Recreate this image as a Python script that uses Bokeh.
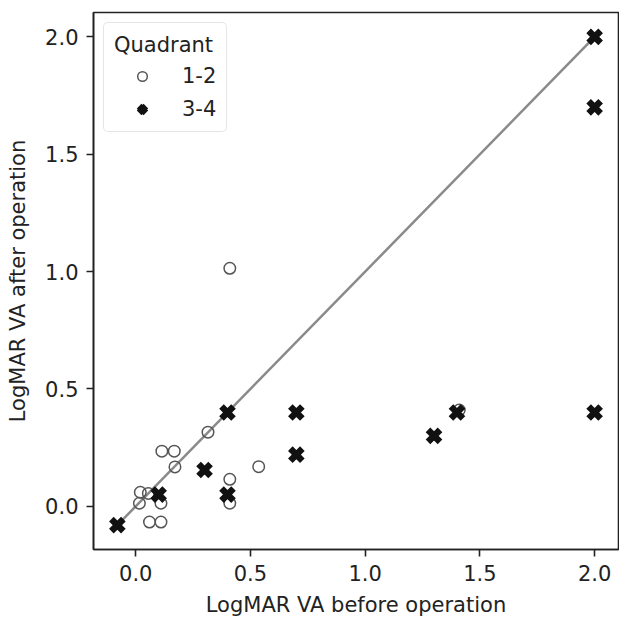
from bokeh.plotting import figure
from bokeh.models import FixedTicker, Range1d, Legend, LegendItem, PrintfTickFormatter
from bokeh.embed import file_html
from bokeh.resources import INLINE

# Quadrant 1-2 (open circles)
before_12 = [0.02, 0.055, 0.016, 0.06, 0.11, 0.11, 0.114, 0.168, 0.171, 0.315, 0.41, 0.41, 0.536, 0.41, 1.41]
after_12 = [0.06, 0.055, 0.013, -0.067, -0.067, 0.013, 0.235, 0.235, 0.168, 0.316, 0.115, 0.013, 0.169, 1.014, 0.41]

# Quadrant 3-4 (crosses)
before_34 = [-0.08, 0.1, 0.4, 0.3, 0.4, 0.7, 0.7, 1.3, 1.4, 2.0, 2.0, 2.0]
after_34 = [-0.08, 0.05, 0.4, 0.155, 0.05, 0.4, 0.22, 0.3, 0.4, 2.0, 1.7, 0.4]

# identity reference line
ref_line = [-0.08, 2.0]

ticks = [0.0, 0.5, 1.0, 1.5, 2.0]

FONT = "DejaVu Sans"

p = figure(width=619, height=619, output_backend="svg", toolbar_location=None,
           x_range=Range1d(-0.184, 2.104), y_range=Range1d(-0.184, 2.104),
           min_border_left=93, min_border_right=1, min_border_top=12, min_border_bottom=69)

p.xgrid.visible = False
p.ygrid.visible = False
p.outline_line_color = "#222222"
p.outline_line_width = 1.6
p.background_fill_color = "white"
p.border_fill_color = "white"

for ax in (p.xaxis[0], p.yaxis[0]):
    ax.ticker = FixedTicker(ticks=ticks)
    ax.formatter = PrintfTickFormatter(format="%.1f")
    ax.axis_line_color = "#222222"
    ax.axis_line_width = 1.6
    ax.major_tick_line_color = "#222222"
    ax.major_tick_line_width = 1.6
    ax.major_tick_out = 7
    ax.major_tick_in = 0
    ax.minor_tick_line_color = None
    ax.major_label_text_font = FONT
    ax.major_label_text_font_size = "21px"
    ax.major_label_text_color = "#222222"
    ax.axis_label_text_font = FONT
    ax.axis_label_text_font_size = "21px"
    ax.axis_label_text_font_style = "normal"
    ax.axis_label_text_color = "#222222"

p.xaxis.axis_label = "LogMAR VA before operation"
p.yaxis.axis_label = "LogMAR VA after operation"
p.xaxis.major_label_standoff = 8
p.xaxis.axis_label_standoff = 9
p.yaxis.major_label_standoff = 8
p.yaxis.axis_label_standoff = 12

p.line(ref_line, ref_line, line_color="#8a8a8a", line_width=2.5)

r1 = p.scatter(before_12, after_12, marker="circle", size=11.5, fill_color=None,
               line_color="#555555", line_width=1.5)
r2 = p.scatter(before_34, after_34, marker="x", size=17, line_color="#111111",
               line_width=6.5)

legend = Legend(items=[LegendItem(label="1-2", renderers=[r1]),
                       LegendItem(label="3-4", renderers=[r2])],
                location="top_left", title="Quadrant")
legend.title_text_font = FONT
legend.title_text_font_size = "21px"
legend.title_text_font_style = "normal"
legend.title_text_color = "#222222"
legend.title_standoff = 7
legend.label_text_font = FONT
legend.label_text_font_size = "21px"
legend.label_text_color = "#222222"
legend.glyph_width = 56
legend.glyph_height = 24
legend.label_height = 24
legend.label_standoff = 12
legend.spacing = 9
legend.padding = 10
legend.margin = 10
legend.border_line_color = "#cccccc"
legend.border_line_width = 1.5
legend.background_fill_color = "white"
legend.background_fill_alpha = 0.85
try:
    legend.border_radius = 5
except Exception:
    pass
p.add_layout(legend, "center")

open("out.html", "w").write(file_html(p, INLINE))
